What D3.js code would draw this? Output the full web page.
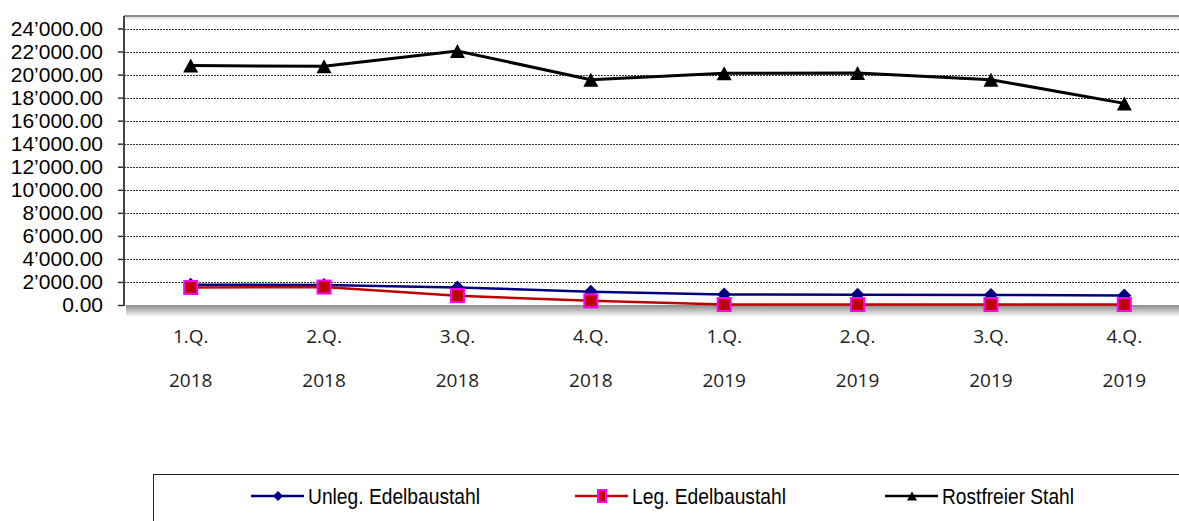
<!DOCTYPE html>
<html>
<head>
<meta charset="utf-8">
<script src="https://cdn.jsdelivr.net/npm/d3@7"></script>
<style>
  body { margin: 0; background: #fff; }
  svg { display: block; }
</style>
</head>
<body>
<div id="chart"></div>
<script>
// data
const quarters = ["1.Q.", "2.Q.", "3.Q.", "4.Q.", "1.Q.", "2.Q.", "3.Q.", "4.Q."];
const years = ["2018", "2018", "2018", "2018", "2019", "2019", "2019", "2019"];
const unlegEdelbaustahl = [1760, 1740, 1520, 1160, 920, 890, 870, 820];
const legEdelbaustahl = [1520, 1560, 810, 360, 40, 40, 40, 40];
const rostfreierStahl = [20780, 20720, 22050, 19560, 20120, 20130, 19560, 17500];
const yTicks = [0, 2000, 4000, 6000, 8000, 10000, 12000, 14000, 16000, 18000, 20000, 22000, 24000];
const seriesNames = ["Unleg. Edelbaustahl", "Leg. Edelbaustahl", "Rostfreier Stahl"];

const width = 1179, height = 521;
const plot = {left: 124, right: 1191, top: 16, bottom: 305};

const svg = d3.select("#chart")
    .append("svg")
    .attr("width", width)
    .attr("height", height);

const x = d3.scaleBand()
    .domain(d3.range(quarters.length))
    .range([plot.left, plot.right])
    .padding(0);

const y = d3.scaleLinear()
    .domain([0, 24000])
    .range([plot.bottom, 28.5]);

const cx = i => x(i) + x.bandwidth() / 2;

// shadow under the plot area
const defs = svg.append("defs");
const grad = defs.append("linearGradient")
    .attr("id", "shadow")
    .attr("x1", 0).attr("y1", 0).attr("x2", 0).attr("y2", 1);
grad.append("stop").attr("offset", "0%").attr("stop-color", "#8a8a8a");
grad.append("stop").attr("offset", "100%").attr("stop-color", "#ffffff");

svg.append("rect")
    .attr("x", plot.left + 2)
    .attr("y", plot.bottom)
    .attr("width", width - plot.left)
    .attr("height", 12)
    .attr("fill", "url(#shadow)");

// top border of the plot area
svg.append("rect")
    .attr("x", plot.left)
    .attr("y", plot.top + 1)
    .attr("width", width - plot.left)
    .attr("height", 2)
    .attr("fill", "#e4e4e4");
svg.append("line")
    .attr("x1", plot.left).attr("x2", width)
    .attr("y1", plot.top).attr("y2", plot.top)
    .attr("stroke", "#8c8c8c")
    .attr("stroke-width", 2);

// gridlines
svg.append("g")
    .selectAll("line")
    .data(yTicks.filter(d => d > 0))
    .enter()
    .append("line")
    .attr("x1", plot.left)
    .attr("x2", width)
    .attr("y1", d => Math.round(y(d)) + 0.5)
    .attr("y2", d => Math.round(y(d)) + 0.5)
    .attr("stroke", "#333")
    .attr("stroke-width", 1)
    .attr("stroke-dasharray", "2,1");

// y axis
const fmt = d => d3.format(",.2f")(d).replace(/,/g, "\u2019");
const yAxis = svg.append("g")
    .attr("transform", `translate(${plot.left},0)`)
    .call(d3.axisLeft(y).tickValues(yTicks).tickSize(6).tickPadding(15).tickFormat(fmt));
yAxis.select(".domain").remove();
yAxis.selectAll(".tick line").attr("stroke", "#333").attr("stroke-width", 1.5);
yAxis.selectAll("text")
    .style("font-family", "'Liberation Sans', Arial, sans-serif")
    .style("font-size", "21px")
    .attr("fill", "#000");

svg.append("line")
    .attr("x1", plot.left).attr("x2", plot.left)
    .attr("y1", plot.top).attr("y2", plot.bottom + 1)
    .attr("stroke", "#444")
    .attr("stroke-width", 2);

// x labels, two lines each
const xLabels = svg.append("g")
    .style("font-family", "'Open Sans', sans-serif")
    .style("font-size", "19px")
    .attr("fill", "#222")
    .attr("text-anchor", "middle");
xLabels.selectAll("text.q")
    .data(quarters)
    .enter()
    .append("text")
    .attr("class", "q")
    .attr("x", (d, i) => cx(i))
    .attr("y", 343)
    .text(d => d);
xLabels.selectAll("text.yr")
    .data(years)
    .enter()
    .append("text")
    .attr("class", "yr")
    .attr("x", (d, i) => cx(i))
    .attr("y", 387)
    .text(d => d);

const line = d3.line()
    .x((d, i) => cx(i))
    .y(d => y(d));

// series lines
svg.append("path")
    .datum(rostfreierStahl)
    .attr("d", line)
    .attr("fill", "none")
    .attr("stroke", "#000")
    .attr("stroke-width", 3);

svg.append("path")
    .datum(unlegEdelbaustahl)
    .attr("d", line)
    .attr("fill", "none")
    .attr("stroke", "#000080")
    .attr("stroke-width", 2.5);

svg.append("path")
    .datum(legEdelbaustahl)
    .attr("d", line)
    .attr("fill", "none")
    .attr("stroke", "#c00000")
    .attr("stroke-width", 2.5);

// markers
const diamond = (s) => `M0,${-s}L${s},0L0,${s}L${-s},0Z`;
const triangle = (w, h) => `M0,${-h / 2}L${w / 2},${h / 2}L${-w / 2},${h / 2}Z`;

svg.append("g")
    .selectAll("path")
    .data(unlegEdelbaustahl)
    .enter()
    .append("path")
    .attr("transform", (d, i) => `translate(${cx(i)},${y(d)})`)
    .attr("d", diamond(7))
    .attr("fill", "#000080");

svg.append("g")
    .selectAll("rect")
    .data(legEdelbaustahl)
    .enter()
    .append("rect")
    .attr("x", (d, i) => cx(i) - 6.5)
    .attr("y", d => y(d) - 6.5)
    .attr("width", 13)
    .attr("height", 13)
    .attr("fill", "#c00000")
    .attr("stroke", "#ff00ff")
    .attr("stroke-width", 2);

svg.append("g")
    .selectAll("path")
    .data(rostfreierStahl)
    .enter()
    .append("path")
    .attr("transform", (d, i) => `translate(${cx(i)},${y(d)})`)
    .attr("d", triangle(15, 14))
    .attr("fill", "#000");

// legend
svg.append("rect")
    .attr("x", 153.5)
    .attr("y", 474.5)
    .attr("width", 1100)
    .attr("height", 100)
    .attr("fill", "#fff")
    .attr("stroke", "#222")
    .attr("stroke-width", 1);

const legendItems = [
    {name: seriesNames[0], x: 251, color: "#000080", len: 172},
    {name: seriesNames[1], x: 575, color: "#c00000", len: 154},
    {name: seriesNames[2], x: 885, color: "#000", len: 132}
];
const legend = svg.append("g");
legendItems.forEach((item, i) => {
    const ly = 496;
    legend.append("line")
        .attr("x1", item.x).attr("x2", item.x + 53)
        .attr("y1", ly).attr("y2", ly)
        .attr("stroke", item.color)
        .attr("stroke-width", 2.5);
    const mx = item.x + 27;
    if (i === 0) {
        legend.append("path")
            .attr("transform", `translate(${mx},${ly})`)
            .attr("d", diamond(5))
            .attr("fill", item.color);
    } else if (i === 1) {
        legend.append("rect")
            .attr("x", mx - 4).attr("y", ly - 6)
            .attr("width", 8).attr("height", 12)
            .attr("fill", "#c00000")
            .attr("stroke", "#ff00ff")
            .attr("stroke-width", 2);
    } else {
        legend.append("path")
            .attr("transform", `translate(${mx},${ly})`)
            .attr("d", triangle(10, 9))
            .attr("fill", "#000");
    }
    legend.append("text")
        .attr("x", item.x + 57)
        .attr("y", ly + 7.5)
        .style("font-family", "'Liberation Sans', Arial, sans-serif")
        .style("font-size", "22px")
        .attr("textLength", item.len)
        .attr("lengthAdjust", "spacingAndGlyphs")
        .text(item.name);
});
</script>
</body>
</html>
